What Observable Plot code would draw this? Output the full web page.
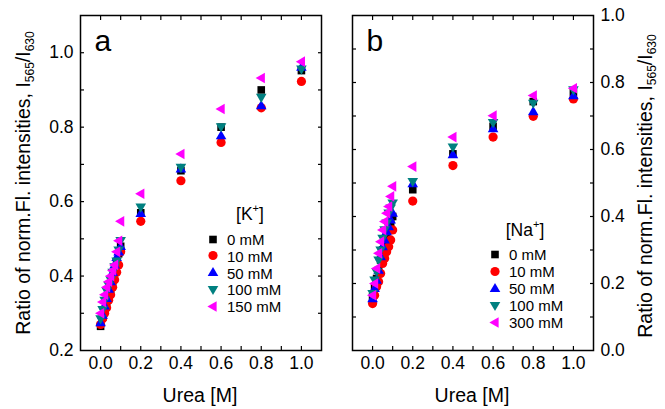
<!DOCTYPE html>
<html><head><meta charset="utf-8">
<script src="https://cdn.jsdelivr.net/npm/d3@7"></script>
<script src="https://cdn.jsdelivr.net/npm/@observablehq/plot@0.6"></script>
<style>
body{margin:0;background:#fff;font-family:"Liberation Sans",Arial,sans-serif;color:#000;}
#wrap{position:relative;width:665px;height:409px;overflow:hidden;}
.panel{position:absolute;top:0;}
.ytitle{position:absolute;white-space:nowrap;font-size:19.5px;transform:translate(-50%,-50%) rotate(-90deg);line-height:1;}
.ytitle sub{font-size:12px;vertical-align:-4px;}
.xtitle{position:absolute;white-space:nowrap;font-size:19.5px;transform:translate(-50%,-50%);line-height:1;}
.legtitle{position:absolute;white-space:nowrap;font-size:17.5px;transform:translate(-50%,-50%);line-height:1;}
.legtitle sup{font-size:11px;vertical-align:8px;}
.legrow{position:absolute;white-space:nowrap;font-size:15px;line-height:1;display:flex;align-items:center;transform:translateY(-50%);}
.legrow svg{margin-right:8px;overflow:visible;}
</style>
</head><body>
<div id="wrap"></div>
<script>
// ---------- data ----------
const urea = [0, 0.01, 0.02, 0.03, 0.04, 0.05, 0.06, 0.07, 0.08, 0.09, 0.1, 0.2, 0.4, 0.6, 0.8, 1.0];

const kLabels = ["0 mM", "10 mM", "50 mM", "100 mM", "150 mM"];
const k0   = [0.265, 0.29, 0.31, 0.33, 0.345, 0.365, 0.385, 0.41, 0.435, 0.46, 0.48, 0.57, 0.683, 0.800, 0.900, 0.952];
const k10  = [0.270, 0.285, 0.30, 0.315, 0.335, 0.35, 0.37, 0.39, 0.41, 0.43, 0.465, 0.547, 0.656, 0.759, 0.852, 0.923];
const k50  = [0.275, 0.295, 0.32, 0.34, 0.365, 0.385, 0.41, 0.43, 0.45, 0.465, 0.48, 0.568, 0.688, 0.777, 0.858, 0.961];
const k100 = [0.285, 0.31, 0.335, 0.36, 0.375, 0.39, 0.41, 0.425, 0.44, 0.47, 0.495, 0.585, 0.692, 0.801, 0.880, 0.956];
const k150 = [0.300, 0.33, 0.35, 0.37, 0.385, 0.40, 0.415, 0.43, 0.465, 0.495, 0.547, 0.621, 0.728, 0.849, 0.932, 0.976];

const naLabels = ["0 mM", "10 mM", "50 mM", "100 mM", "300 mM"];
const na0   = [0.160, 0.19, 0.215, 0.24, 0.27, 0.30, 0.32, 0.34, 0.36, 0.38, 0.40, 0.480, 0.587, 0.669, 0.743, 0.771];
const na10  = [0.140, 0.165, 0.19, 0.205, 0.23, 0.26, 0.275, 0.295, 0.31, 0.33, 0.36, 0.446, 0.552, 0.637, 0.699, 0.751];
const na50  = [0.155, 0.185, 0.21, 0.24, 0.28, 0.31, 0.33, 0.355, 0.37, 0.39, 0.41, 0.498, 0.585, 0.662, 0.713, 0.761];
const na100 = [0.170, 0.21, 0.235, 0.27, 0.30, 0.335, 0.36, 0.38, 0.41, 0.425, 0.44, 0.504, 0.607, 0.680, 0.738, 0.778];
const na300 = [0.165, 0.20, 0.245, 0.29, 0.325, 0.36, 0.385, 0.41, 0.43, 0.46, 0.49, 0.549, 0.637, 0.701, 0.761, 0.783];

const xTickLabels = [0, 0.2, 0.4, 0.6, 0.8, 1.0];
const xMinorTicks = [0, 0.1, 0.2, 0.3, 0.4, 0.5, 0.6, 0.7, 0.8, 0.9, 1.0];
const yTickLabelsA = [0.2, 0.4, 0.6, 0.8, 1.0];
const yMinorTicksA = [0.3, 0.4, 0.5, 0.6, 0.7, 0.8, 0.9, 1.0];
const yTickLabelsB = [0, 0.2, 0.4, 0.6, 0.8, 1.0];
const yMinorTicksB = [0.1, 0.2, 0.3, 0.4, 0.5, 0.6, 0.7, 0.8, 0.9];

// ---------- symbols ----------
const symSquare = {draw(c){c.rect(-3.8,-3.8,7.6,7.6);}};
const symCircle = {draw(c){c.moveTo(4.6,0);c.arc(0,0,4.6,0,2*Math.PI);}};
const symUp = {draw(c){c.moveTo(0,-5.6);c.lineTo(5.3,3.6);c.lineTo(-5.3,3.6);c.closePath();}};
const symDown = {draw(c){c.moveTo(0,5.6);c.lineTo(5.3,-3.6);c.lineTo(-5.3,-3.6);c.closePath();}};
const symLeft = {draw(c){c.moveTo(-5.6,0);c.lineTo(3.6,-5.3);c.lineTo(3.6,5.3);c.closePath();}};
const symbols = [symSquare, symCircle, symUp, symDown, symLeft];
const colors = ["#000000", "#ff0000", "#0000ff", "#008080", "#ff00ff"];

function symbolPath(sym){ const p = d3.path(); sym.draw(p); return p.toString(); }

function makePanel({series, yDomain, yLabels, yMinor, side, letter, marginLeft, marginRight, width}) {
  const marks = [
    Plot.frame({stroke: "black", strokeWidth: 1.5}),
    Plot.axisX(xMinorTicks, {anchor: "bottom", tickSize: -4, tickFormat: () => "", strokeWidth: 1.2, label: null}),
    Plot.axisX(xMinorTicks, {anchor: "top", tickSize: -4, tickFormat: () => "", strokeWidth: 1.2, label: null}),
    Plot.axisX(xTickLabels, {anchor: "bottom", tickSize: 0, tickPadding: 6, tickFormat: d3.format(".1f"), fontSize: 17.5, label: null}),
    Plot.axisY(yMinor, {anchor: "left", tickSize: -4, tickFormat: () => "", strokeWidth: 1.2, label: null}),
    Plot.axisY(yMinor, {anchor: "right", tickSize: -4, tickFormat: () => "", strokeWidth: 1.2, label: null}),
    Plot.axisY(yLabels, {anchor: side, tickSize: 0, tickPadding: 7, tickFormat: d3.format(".1f"), fontSize: 17.5, label: null}),
    Plot.text([letter], {frameAnchor: "top-left", dx: 14, dy: 26, fontSize: 30, textAnchor: "start", lineAnchor: "middle"})
  ];
  series.forEach((vals, i) => {
    marks.push(Plot.dot(urea.map((u, j) => ({u, v: vals[j]})), {x: "u", y: "v", symbol: symbols[i], fill: colors[i], stroke: "none", r: 5}));
  });
  return Plot.plot({
    width, height: 409,
    marginLeft, marginRight, marginTop: 15, marginBottom: 59,
    x: {domain: [-0.1, 1.1], label: null},
    y: {domain: yDomain, label: null},
    style: {fontFamily: "Liberation Sans, Arial, sans-serif", fontSize: "17px", color: "black", background: "white"},
    marks
  });
}

const wrap = document.getElementById("wrap");

const pa = makePanel({series: [k0, k10, k50, k100, k150], yDomain: [0.2, 1.1], yLabels: yTickLabelsA, yMinor: yMinorTicksA, side: "left", letter: "a", marginLeft: 80, marginRight: 12, width: 333});
pa.classList.add("panel"); pa.style.left = "0px";
wrap.appendChild(pa);

const pb = makePanel({series: [na0, na10, na50, na100, na300], yDomain: [0, 1.0], yLabels: yTickLabelsB, yMinor: yMinorTicksB, side: "right", letter: "b", marginLeft: 19, marginRight: 72, width: 332});
pb.classList.add("panel"); pb.style.left = "333px";
wrap.appendChild(pb);

function addDiv(cls, html, left, top){
  const d = document.createElement("div");
  d.className = cls; d.innerHTML = html;
  d.style.left = left + "px"; d.style.top = top + "px";
  wrap.appendChild(d);
  return d;
}

const yTitle = "Ratio of norm.Fl. intensities, I<sub>565</sub>/I<sub>630</sub>";
addDiv("ytitle", yTitle, 25, 183);
addDiv("ytitle", yTitle, 647, 186);
addDiv("xtitle", "Urea [M]", 200, 396);
addDiv("xtitle", "Urea [M]", 472, 396);

function legend(title, labels, titleX, titleY, markerX, rowY, step){
  addDiv("legtitle", title, titleX, titleY);
  labels.forEach((lab, i) => {
    const svg = `<svg width="12" height="12" viewBox="-6 -6 12 12"><path d="${symbolPath(symbols[i])}" fill="${colors[i]}"/></svg>`;
    addDiv("legrow", svg + `<span>${lab}</span>`, markerX - 6, rowY + i * step);
  });
}
legend("[K<sup>+</sup>]", kLabels, 250, 213, 213, 239, 16.8);
legend("[Na<sup>+</sup>]", naLabels, 525, 229, 495, 254, 17);
</script>
</body></html>
